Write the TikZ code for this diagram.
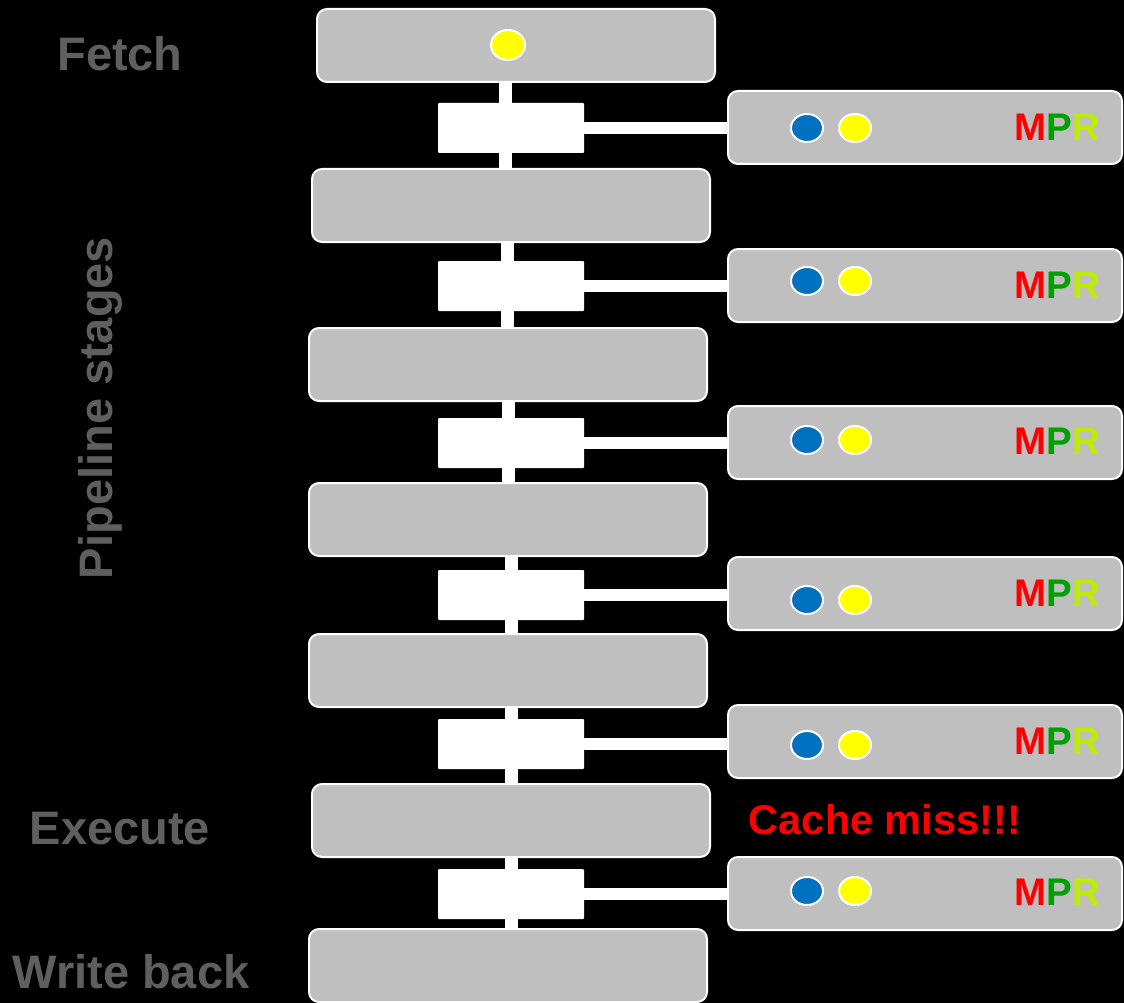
\documentclass[tikz,border=0pt]{standalone}
\usepackage{fontspec}
\setmainfont{Liberation Sans}
\usetikzlibrary{shapes.geometric}

\definecolor{stagegray}{RGB}{191,191,191}
\definecolor{labelgray}{RGB}{95,95,95}
\definecolor{dotblue}{RGB}{0,112,192}
\definecolor{dotyellow}{RGB}{255,255,0}
\definecolor{pgreen}{RGB}{0,160,0}
\definecolor{rlime}{RGB}{190,235,0}

\newcommand{\mpr}{{\color{red}M}{\color{pgreen}P}{\color{rlime}R}}

\begin{document}
\begin{tikzpicture}[x=1pt,y=-1pt,
    stage/.style={draw=white, line width=2pt, fill=stagegray, rounded corners=10pt,
        minimum width=398pt, minimum height=73pt, inner sep=0pt, outer sep=0pt},
    side/.style={stage, minimum width=394pt},
    latch/.style={fill=white, rounded corners=1pt, minimum width=146pt,
        minimum height=50pt, inner sep=0pt, outer sep=0pt},
    dot/.style={ellipse, draw=white, line width=2pt, minimum width=32pt,
        minimum height=28pt, inner sep=0pt},
    wire/.style={white, line width=13pt},
    stagelabel/.style={text=labelgray, font=\fontsize{47}{50}\selectfont\bfseries},
    flag/.style={anchor=east, font=\fontsize{38.5}{40}\selectfont\bfseries}]

    % Background
    \fill[black] (0,0) rectangle (1124,1003);
    \useasboundingbox (0,0) rectangle (1124,1003);

    % Stages
    \node[stage] (s1) at (516,45.5) {};
    \node[stage] (s2) at (511,205.5) {};
    \node[stage] (s3) at (508,364.5) {};
    \node[stage] (s4) at (508,519.5) {};
    \node[stage] (s5) at (508,670.5) {};
    \node[stage] (s6) at (511,820.5) {};
    \node[stage] (s7) at (508,965.5) {};
    \node[dot, fill=dotyellow, minimum width=34pt, minimum height=30pt] (f) at (508,45) {};

    % Latches between stages
    \node[latch] (l1) at (511,128) {};
    \node[latch] (l2) at (511,286) {};
    \node[latch] (l3) at (511,443) {};
    \node[latch] (l4) at (511,595) {};
    \node[latch] (l5) at (511,744) {};
    \node[latch] (l6) at (511,894) {};

    % Side boxes
    \node[side] (m1) at (925,127.5) {};
    \node[side] (m2) at (925,285.5) {};
    \node[side] (m3) at (925,442.5) {};
    \node[side] (m4) at (925,593.5) {};
    \node[side] (m5) at (925,741.5) {};
    \node[side] (m6) at (925,893.5) {};

    % Vertical bus through the latches
    \draw[wire] ([xshift=-6pt]l1 |- s1.south) -- ([xshift=-6pt]l1 |- s2.north);
    \draw[wire] ([xshift=-4pt]l2 |- s2.south) -- ([xshift=-4pt]l2 |- s3.north);
    \draw[wire] ([xshift=-3pt]l3 |- s3.south) -- ([xshift=-3pt]l3 |- s4.north);
    \draw[wire] (l4 |- s4.south) -- (l4 |- s5.north);
    \draw[wire] (l5 |- s5.south) -- (l5 |- s6.north);
    \draw[wire] (l6 |- s6.south) -- (l6 |- s7.north);

    % Latch to side box
    \draw[wire, line width=12pt] (l1.east) -- (l1.east -| m1.west);
    \draw[wire, line width=12pt] (l2.east) -- (l2.east -| m2.west);
    \draw[wire, line width=12pt] (l3.east) -- (l3.east -| m3.west);
    \draw[wire, line width=12pt] (l4.east) -- (l4.east -| m4.west);
    \draw[wire, line width=12pt] (l5.east) -- (l5.east -| m5.west);
    \draw[wire, line width=12pt] (l6.east) -- (l6.east -| m6.west);

    % Dots and flags in the side boxes
    \node[dot, fill=dotblue] (b1) at (807,128) {};
    \node[dot, fill=dotyellow] (y1) at (855,128) {};
    \node[flag] (r1) at (1104,127) {\mpr};
    \node[dot, fill=dotblue] (b2) at (807,281) {};
    \node[dot, fill=dotyellow] (y2) at (855,281) {};
    \node[flag] (r2) at (1104,285) {\mpr};
    \node[dot, fill=dotblue] (b3) at (807,440) {};
    \node[dot, fill=dotyellow] (y3) at (855,440) {};
    \node[flag] (r3) at (1104,441) {\mpr};
    \node[dot, fill=dotblue] (b4) at (807,600) {};
    \node[dot, fill=dotyellow] (y4) at (855,600) {};
    \node[flag] (r4) at (1104,593) {\mpr};
    \node[dot, fill=dotblue] (b5) at (807,745) {};
    \node[dot, fill=dotyellow] (y5) at (855,745) {};
    \node[flag] (r5) at (1104,741) {\mpr};
    \node[dot, fill=dotblue] (b6) at (807,891) {};
    \node[dot, fill=dotyellow] (y6) at (855,891) {};
    \node[flag] (r6) at (1104,892) {\mpr};

    % Labels
    \node[stagelabel] (fetch) at (120,54) {Fetch};
    \node[stagelabel, rotate=90] (pipe) at (100,408) {Pipeline stages};
    \node[stagelabel] (exec) at (120,829) {Execute};
    \node[stagelabel] (wb) at (131,972) {Write back};
    \node[text=red, font=\fontsize{41.5}{44}\selectfont\bfseries] (miss) at (885,820) {Cache miss!!!};

\end{tikzpicture}
\end{document}
